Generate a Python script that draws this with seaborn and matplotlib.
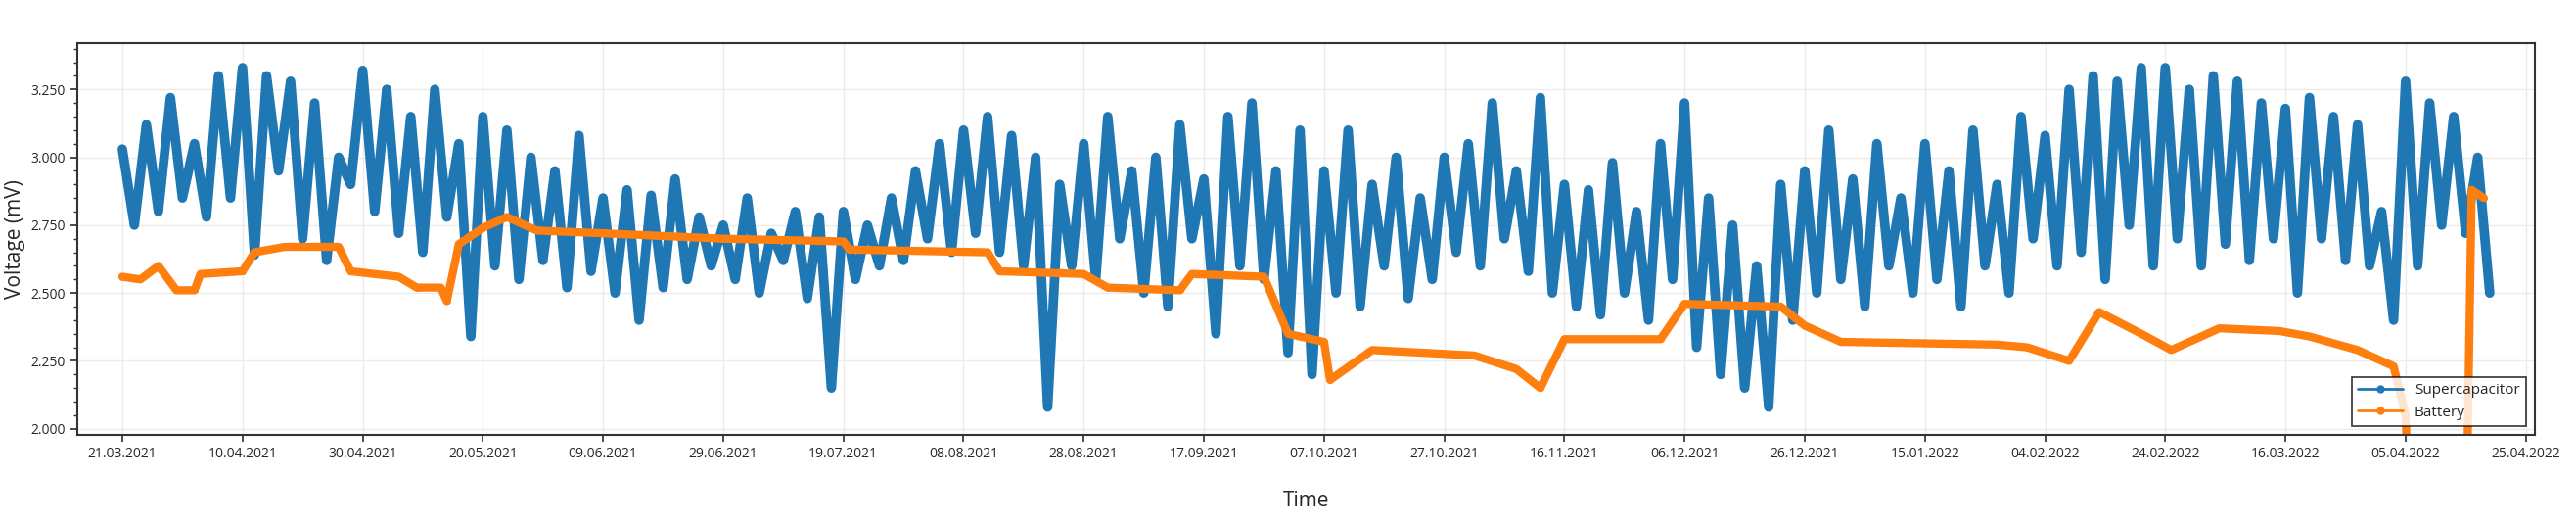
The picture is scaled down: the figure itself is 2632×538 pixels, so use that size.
import numpy as np
import pandas as pd
import matplotlib
matplotlib.use("Agg")
import matplotlib.pyplot as plt
import matplotlib.dates as mdates
from matplotlib.ticker import AutoMinorLocator, FuncFormatter
import seaborn as sns

# Supercapacitor voltage, one reading every 2 days from 21.03.2021
super_start = "2021-03-21"
super_values = [
    3.03, 2.75, 3.12, 2.80, 3.22, 2.85, 3.05, 2.78, 3.30, 2.85,
    3.33, 2.64, 3.30, 2.95, 3.28, 2.70, 3.20, 2.62, 3.00, 2.90,
    3.32, 2.80, 3.25, 2.72, 3.15, 2.65, 3.25, 2.78, 3.05, 2.34,
    3.15, 2.60, 3.10, 2.55, 3.00, 2.62, 2.95, 2.52, 3.08, 2.58,
    2.85, 2.50, 2.88, 2.40, 2.86, 2.52, 2.92, 2.55, 2.78, 2.60,
    2.75, 2.55, 2.85, 2.50, 2.72, 2.62, 2.80, 2.48, 2.78, 2.15,
    2.80, 2.55, 2.75, 2.60, 2.85, 2.62, 2.95, 2.70, 3.05, 2.65,
    3.10, 2.72, 3.15, 2.65, 3.08, 2.60, 3.00, 2.08, 2.90, 2.60,
    3.05, 2.55, 3.15, 2.70, 2.95, 2.50, 3.00, 2.45, 3.12, 2.70,
    2.92, 2.35, 3.15, 2.60, 3.20, 2.55, 2.95, 2.28, 3.10, 2.20,
    2.95, 2.50, 3.10, 2.45, 2.90, 2.60, 3.00, 2.48, 2.85, 2.55,
    3.00, 2.65, 3.05, 2.60, 3.20, 2.70, 2.95, 2.58, 3.22, 2.50,
    2.90, 2.45, 2.88, 2.42, 2.98, 2.50, 2.80, 2.40, 3.05, 2.55,
    3.20, 2.30, 2.85, 2.20, 2.75, 2.15, 2.60, 2.08, 2.90, 2.40,
    2.95, 2.50, 3.10, 2.55, 2.92, 2.45, 3.05, 2.60, 2.85, 2.50,
    3.05, 2.55, 2.95, 2.45, 3.10, 2.60, 2.90, 2.50, 3.15, 2.70,
    3.08, 2.60, 3.25, 2.65, 3.30, 2.55, 3.28, 2.75, 3.33, 2.60,
    3.33, 2.70, 3.25, 2.60, 3.30, 2.68, 3.28, 2.62, 3.20, 2.70,
    3.18, 2.50, 3.22, 2.70, 3.15, 2.62, 3.12, 2.60, 2.80, 2.40,
    3.28, 2.60, 3.20, 2.75, 3.15, 2.72, 3.00, 2.50,
]

# Battery voltage (step-like)
battery_dates = [
    "2021-03-21", "2021-03-24", "2021-03-27", "2021-03-30", "2021-04-02", "2021-04-03",
    "2021-04-10", "2021-04-12", "2021-04-17", "2021-04-26", "2021-04-28", "2021-05-06",
    "2021-05-09", "2021-05-13", "2021-05-14", "2021-05-16", "2021-05-20", "2021-05-24",
    "2021-05-29", "2021-06-09", "2021-06-29", "2021-07-19", "2021-07-20", "2021-08-12",
    "2021-08-14", "2021-08-28", "2021-09-01", "2021-09-13", "2021-09-15", "2021-09-27",
    "2021-10-01", "2021-10-07", "2021-10-08", "2021-10-15", "2021-11-01", "2021-11-08",
    "2021-11-12", "2021-11-16", "2021-12-02", "2021-12-06", "2021-12-22", "2021-12-26",
    "2022-01-01", "2022-01-27", "2022-02-01", "2022-02-08", "2022-02-13", "2022-02-20",
    "2022-02-25", "2022-03-05", "2022-03-15", "2022-03-20", "2022-03-28", "2022-04-03",
    "2022-04-05", "2022-04-06", "2022-04-15", "2022-04-16", "2022-04-18",
]
battery_values = [
    2.56, 2.55, 2.60, 2.51, 2.51, 2.57,
    2.58, 2.65, 2.67, 2.67, 2.58, 2.56,
    2.52, 2.52, 2.47, 2.68, 2.74, 2.78,
    2.73, 2.72, 2.70, 2.69, 2.66, 2.65,
    2.58, 2.57, 2.52, 2.51, 2.57, 2.56,
    2.35, 2.32, 2.18, 2.29, 2.27, 2.22,
    2.15, 2.33, 2.33, 2.46, 2.45, 2.38,
    2.32, 2.31, 2.30, 2.25, 2.43, 2.35,
    2.29, 2.37, 2.36, 2.34, 2.29, 2.23,
    2.05, 1.50, 1.50, 2.88, 2.85,
]

super_df = pd.DataFrame({
    "Time": pd.date_range(super_start, periods=len(super_values), freq="2D"),
    "Voltage": super_values,
})
battery_df = pd.DataFrame({"Time": pd.to_datetime(battery_dates), "Voltage": battery_values})

sns.set_theme(style="whitegrid")
plt.rcParams["font.family"] = ["Open Sans", "DejaVu Sans"]

fig = plt.figure(figsize=(26.32, 5.38), dpi=100)
ax = fig.add_axes([0.030, 0.175, 0.954, 0.743])

sns.lineplot(data=super_df, x="Time", y="Voltage", ax=ax, color="#1f77b4",
             linewidth=7, marker="o", markersize=5, markeredgewidth=0, label="Supercapacitor")
sns.lineplot(data=battery_df, x="Time", y="Voltage", ax=ax, color="#ff7f0e",
             linewidth=6, marker="o", markersize=5, markeredgewidth=0, label="Battery")

ax.set_ylim(1.978, 3.42)
ax.set_xlim(pd.Timestamp("2021-03-13 12:00"), pd.Timestamp("2022-04-26 12:00"))
ax.set_yticks([2.0, 2.25, 2.5, 2.75, 3.0, 3.25])
ax.yaxis.set_major_formatter(FuncFormatter(lambda v, p: f"{v:.3f}"))
ax.yaxis.set_minor_locator(AutoMinorLocator(5))
ticks = pd.date_range("2021-03-21", "2022-04-25", freq="20D")
ax.set_xticks(ticks)
ax.xaxis.set_major_formatter(mdates.DateFormatter("%d.%m.%Y"))

ax.grid(True, color="#ebebeb", linewidth=1)
ax.set_facecolor("white")
for s in ax.spines.values():
    s.set_color("#333333")
    s.set_linewidth(1.5)
ax.tick_params(axis="both", which="major", labelsize=10, length=5, color="#333333",
               bottom=True, left=True)
ax.tick_params(axis="y", which="minor", length=3, color="#333333", left=True)

ax.set_xlabel("Time", fontsize=15, labelpad=22)
ax.set_ylabel("Voltage (mV)", fontsize=15)

leg = ax.legend(loc="lower right", fontsize=11, frameon=True, fancybox=False,
                borderaxespad=0.6, handlelength=3)
leg.get_frame().set_edgecolor("black")
leg.get_frame().set_linewidth(1.2)
for h in leg.get_lines():
    h.set_linewidth(2)
    h.set_markersize(6)

fig.savefig("out.png", dpi=100)
